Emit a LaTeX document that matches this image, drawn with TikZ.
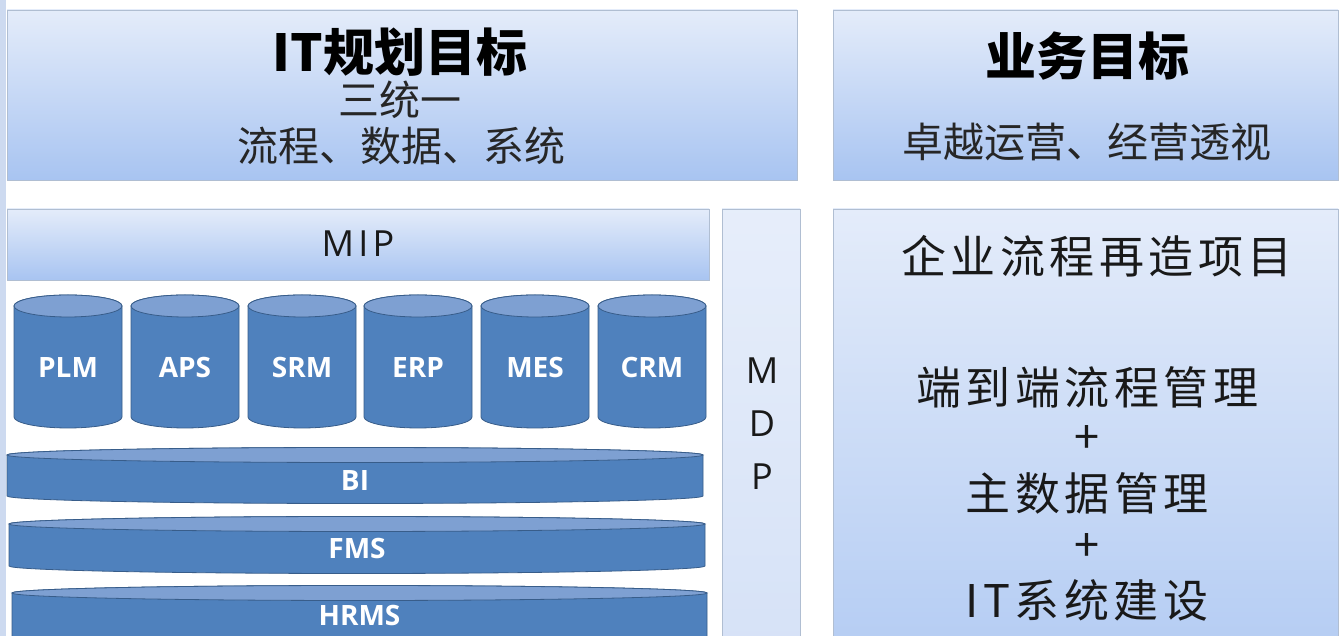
\documentclass[tikz,border=0pt]{standalone}
\usepackage{fontspec}
\newfontfamily\cjk{Noto Sans CJK SC}
\newfontfamily\cjkls{Noto Sans CJK SC}[LetterSpace=10]
\newfontfamily\osans{Open Sans}
\newfontfamily\osansls{Open Sans}[LetterSpace=12]
\definecolor{gtop}{RGB}{228,236,250}
\definecolor{gbot}{RGB}{168,196,241}
\definecolor{boxline}{RGB}{176,190,210}
\definecolor{cylbody}{RGB}{79,129,189}
\definecolor{cyltop}{RGB}{126,160,210}
\definecolor{cylline}{RGB}{56,93,138}
\definecolor{mdpfill}{RGB}{214,226,247}
\definecolor{edge}{RGB}{205,218,240}
\tikzset{
  gbox/.style={draw=boxline, line width=0.8pt, top color=gtop, bottom color=gbot, inner sep=0pt},
  mdpbox/.style={draw=boxline, line width=0.8pt, top color=mdpfill!60!white, bottom color=mdpfill, inner sep=0pt},
  rbox/.style={draw=boxline, line width=0.8pt, top color=gtop, bottom color=gbot!85!white, inner sep=0pt},
  title/.style={font=\cjk\bfseries\fontsize{51}{55}\selectfont, text=black},
  sub/.style={font=\cjk\fontsize{41}{45}\selectfont, text=black!85},
  big/.style={font=\cjkls\fontsize{45}{49}\selectfont, text=black!90},
  lat/.style={font=\osansls\fontsize{36}{40}\selectfont, text=black!90},
  dbl/.style={font=\osans\bfseries\fontsize{28}{31}\selectfont, text=white},
  cylpath/.style={fill=cylbody, draw=cylline, line width=0.8pt},
  cyltopst/.style={fill=cyltop, draw=cylline, line width=0.8pt},
}
\begin{document}
\begin{tikzpicture}[x=1pt,y=1pt]
\clip (0,0) rectangle (1344,636);
\fill[white] (0,0) rectangle (1344,636);
\fill[edge] (0,0) rectangle (6,636);

% top boxes
\node[gbox, minimum width=790pt, minimum height=170pt] (itbox) at (402,541) {};
\node[gbox, minimum width=505pt, minimum height=170pt] (bizbox) at (1085.5,541) {};
\node[title] (ittitle) at (400,584) {IT规划目标};
\node[sub] (itsub1) at (400,536) {三统一};
\node[sub] (itsub2) at (401,490) {流程、数据、系统};
\node[title] (biztitle) at (1087,580) {业务目标};
\node[sub] (bizsub) at (1087,494) {卓越运营、经营透视};

% MIP
\node[gbox, minimum width=702pt, minimum height=71pt] (mip) at (358,391.5) {};
\node[lat] (miptext) at (358,392) {MIP};

% MDP
\node[mdpbox, minimum width=78pt, minimum height=440pt] (mdp) at (761,207) {};
\node[lat] (mdpm) at (762,265) {M};
\node[lat] (mdpd) at (762,212) {D};
\node[lat] (mdpp) at (762,159) {P};

% right box
\node[rbox, minimum width=505pt, minimum height=440pt] (rbox) at (1085.5,207) {};
\node[big] (r1) at (1097,380) {企业流程再造项目};
\node[big] (r2) at (1087,249) {端到端流程管理};
\node[big] (r3) at (1087,196) {+};
\node[big] (r4) at (1087,143) {主数据管理};
\node[big] (r5) at (1087,88) {+};
\node[big] (r6) at (1087,36) {IT系统建设};

% cylinders
\foreach \cx/\lab [count=\i] in {68/PLM,185/APS,302/SRM,418/ERP,535/MES,652/CRM}{
  \path[cylpath] (\cx-54,330) -- (\cx-54,219)
     arc[start angle=180,end angle=360,x radius=54,y radius=11]
     -- (\cx+54,330)
     arc[start angle=0,end angle=180,x radius=54,y radius=11] -- cycle;
  \path[cyltopst] (\cx,330) ellipse[x radius=54,y radius=11];
  \node[dbl] (cyl\i) at (\cx,268) {\lab};
}

% discs
\foreach \xl/\xr/\yt/\yb/\ly/\lab/\nm in {7/703/181/140/155/BI/bi, 9/705/112/70/87/FMS/fms, 12/707/43/-10/20/HRMS/hrms}{
  \path[cylpath] (\xl,\yt) -- (\xl,\yb)
     arc[start angle=180,end angle=360,x radius={(\xr-\xl)/2},y radius=7.5]
     -- (\xr,\yt)
     arc[start angle=0,end angle=180,x radius={(\xr-\xl)/2},y radius=7.5] -- cycle;
  \path[cyltopst] ({(\xl+\xr)/2},\yt) ellipse[x radius={(\xr-\xl)/2},y radius=7.5];
  \node[dbl] (\nm) at ({(\xl+\xr)/2},\ly) {\lab};
}
\end{tikzpicture}
\end{document}
